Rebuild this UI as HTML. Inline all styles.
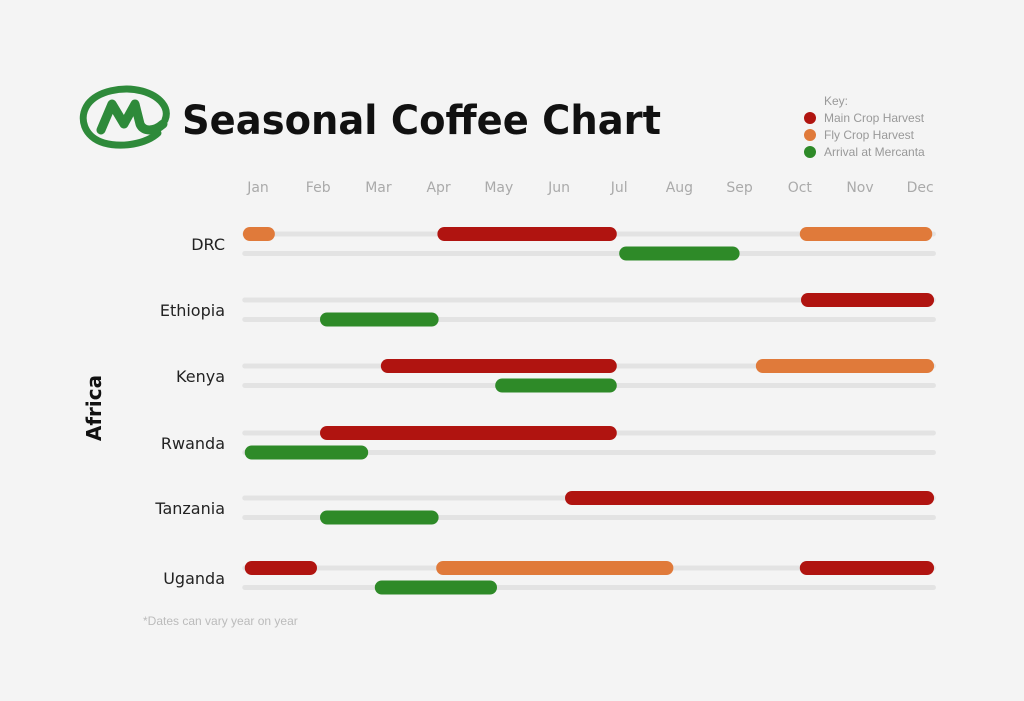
<!DOCTYPE html>
<html><head><meta charset="utf-8"><style>
body{margin:0;background:#f4f4f4;}
svg{display:block;font-family:"DejaVu Sans","Liberation Sans",sans-serif;}
</style></head><body>
<svg id="c" width="1024" height="701">
<rect width="1024" height="701" fill="#f4f4f4"/>
<g>
<path d="M158,133 C146,144 122,148 104,143 C84,137 78,118 88,104 C98,91 122,86 142,91 C160,96 170,108 165,120" fill="none" stroke="#2e8a3a" stroke-width="7" stroke-linecap="round"/>
<path d="M101,130 L112,104 L124,124 L135,104 L140,124 C143,132 154,132 163,124" fill="none" stroke="#2e8a3a" stroke-width="9" stroke-linejoin="round" stroke-linecap="round"/>
</g>
<text x="182" y="134" font-size="40" font-weight="bold" fill="#111" textLength="479" lengthAdjust="spacingAndGlyphs">Seasonal Coffee Chart</text>
<g font-size="12" fill="#999" font-family="Liberation Sans, sans-serif">
<text x="824" y="105">Key:</text>
<circle cx="810" cy="118" r="6" fill="#b01410"/><text x="824" y="122">Main Crop Harvest</text>
<circle cx="810" cy="135" r="6" fill="#e07a3a"/><text x="824" y="139">Fly Crop Harvest</text>
<circle cx="810" cy="152" r="6" fill="#2e8a28"/><text x="824" y="156">Arrival at Mercanta</text>
</g>
<text transform="translate(101,408) rotate(-90)" text-anchor="middle" font-size="20" font-weight="bold" fill="#111">Africa</text>
<text x="143" y="625" font-size="12" fill="#bbb" font-family="Liberation Sans, sans-serif">*Dates can vary year on year</text>
<g id="months"></g><g id="rows"></g>
</svg>
<script>
const months=["Jan","Feb","Mar","Apr","May","Jun","Jul","Aug","Sep","Oct","Nov","Dec"];
const countries=["DRC","Ethiopia","Kenya","Rwanda","Tanzania","Uganda"];
const rowY=[234,300,366,433,498,568];
// [countryIndex, lane(0 top,1 bottom), startMonth, endMonth]
const mainCrop=[[0,0,2.98,5.96],[1,0,9.02,11.23],[2,0,2.04,5.96],[3,0,1.03,5.96],[4,0,5.1,11.23],[5,0,-0.22,0.98],[5,0,9.0,11.23]];
const flyCrop=[[0,0,-0.25,0.28],[0,0,9.0,11.2],[2,0,8.27,11.23],[5,0,2.96,6.9]];
const arrival=[[0,1,6.0,8.0],[1,1,1.03,3.0],[2,1,3.94,5.96],[3,1,-0.22,1.83],[4,1,1.03,3.0],[5,1,1.94,3.97]];
const NS="http://www.w3.org/2000/svg";
const x=v=>258+60.2*v;
const laneY=(r,l)=>rowY[r]+l*19.5;
const mg=document.getElementById('months'),rg=document.getElementById('rows');
function mk(t,a,p){const e=document.createElementNS(NS,t);for(const k in a)e.setAttribute(k,a[k]);p.appendChild(e);return e;}
months.forEach((m,i)=>{const t=mk('text',{x:x(i),y:192,'text-anchor':'middle','font-size':14,fill:'#aaa'},mg);t.textContent=m;

});
countries.forEach((c,r)=>{
const t=mk('text',{x:225,y:rowY[r]+16,'text-anchor':'end','font-size':16,fill:'#222'},rg);t.textContent=c;


for(let l=0;l<2;l++){const ln=mk('line',{x1:x(-0.22),x2:x(11.22),y1:laneY(r,l),y2:laneY(r,l),stroke:'#e3e3e3','stroke-width':5,'stroke-linecap':'round'},rg);

}
});
function bars(arr,color,name){arr.forEach(d=>{const y=laneY(d[0],d[1]);
const ln=mk('line',{x1:x(d[2])+7,x2:x(d[3])-7,y1:y,y2:y,stroke:color,'stroke-width':14,'stroke-linecap':'round'},rg);

});}
bars(mainCrop,'#b01410','main-crop');bars(flyCrop,'#e07a3a','fly-crop');bars(arrival,'#2e8a28','arrival');
</script>
</body></html>
